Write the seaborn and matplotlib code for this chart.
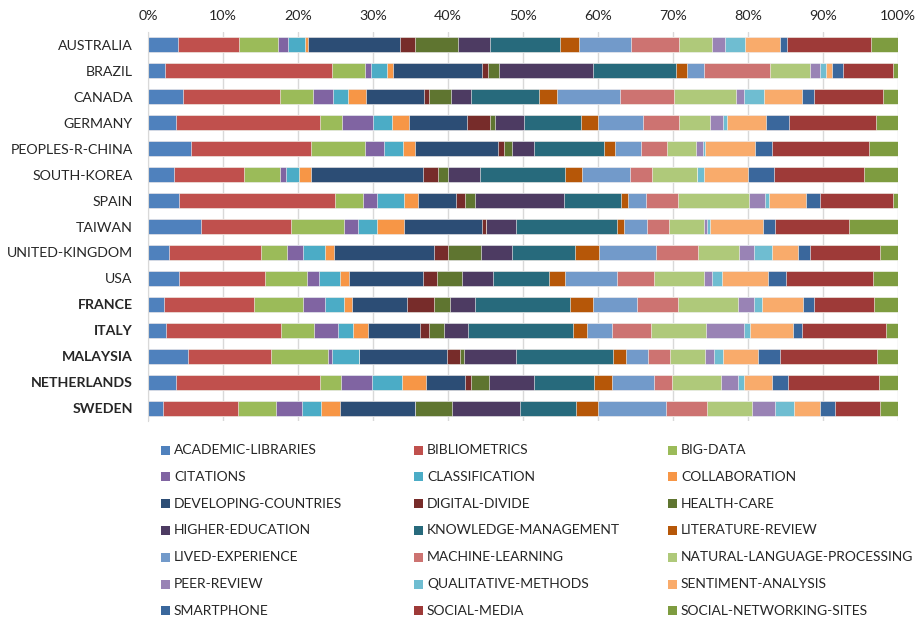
import matplotlib
matplotlib.use("Agg")
import matplotlib.pyplot as plt
from matplotlib.patches import Rectangle
import numpy as np
import pandas as pd
import seaborn as sns

countries = ["AUSTRALIA", "BRAZIL", "CANADA", "GERMANY", "PEOPLES-R-CHINA",
             "SOUTH-KOREA", "SPAIN", "TAIWAN", "UNITED-KINGDOM", "USA",
             "FRANCE", "ITALY", "MALAYSIA", "NETHERLANDS", "SWEDEN"]
bold_countries = ["FRANCE", "ITALY", "MALAYSIA", "NETHERLANDS", "SWEDEN"]

topics = ["ACADEMIC-LIBRARIES", "BIBLIOMETRICS", "BIG-DATA", "CITATIONS",
          "CLASSIFICATION", "COLLABORATION", "DEVELOPING-COUNTRIES",
          "DIGITAL-DIVIDE", "HEALTH-CARE", "HIGHER-EDUCATION",
          "KNOWLEDGE-MANAGEMENT", "LITERATURE-REVIEW", "LIVED-EXPERIENCE",
          "MACHINE-LEARNING", "NATURAL-LANGUAGE-PROCESSING", "PEER-REVIEW",
          "QUALITATIVE-METHODS", "SENTIMENT-ANALYSIS", "SMARTPHONE",
          "SOCIAL-MEDIA", "SOCIAL-NETWORKING-SITES"]

colors = ["#4F81BD", "#C0504D", "#9BBB59", "#8064A2", "#4BACC6", "#F79646",
          "#2C4D75", "#772C2A", "#5F7530", "#4D3B62", "#276A7C", "#B65708",
          "#729ACA", "#CD7371", "#AFC97A", "#9983B5", "#6FBDD1", "#F9AB6B",
          "#3A679C", "#9E3A38", "#7E9C40"]

# share of each topic per country (%), same order as topics
australia = [4.0, 8.18, 5.11, 1.38, 2.22, 0.49, 12.22, 1.96, 5.82, 4.18, 9.33,
             2.53, 6.94, 6.48, 4.4, 1.65, 2.71, 4.67, 0.93, 11.24, 3.56]
brazil = [2.27, 22.26, 4.4, 0.76, 2.18, 0.8, 11.86, 0.76, 1.47, 12.53, 11.15,
          1.47, 2.18, 8.89, 5.24, 1.42, 0.76, 0.8, 1.42, 6.67, 0.71]
canada = [4.62, 12.94, 4.4, 2.71, 2.0, 2.44, 7.69, 0.62, 2.98, 2.62, 9.07,
          2.4, 8.4, 7.29, 8.26, 1.07, 2.67, 4.98, 1.6, 9.28, 1.96]
germany = [3.78, 19.11, 3.02, 4.05, 2.53, 2.27, 7.73, 3.11, 0.71, 3.91, 7.6,
           2.27, 6.0, 4.75, 4.09, 1.78, 0.49, 5.28, 3.03, 11.55, 2.98]
china = [5.69, 16.04, 7.2, 2.54, 2.49, 1.6, 11.11, 0.75, 1.16, 2.93, 9.25,
         1.46, 3.47, 3.55, 3.83, 0.93, 0.27, 6.71, 2.22, 12.89, 3.91]
south_korea = [3.51, 9.25, 4.88, 0.72, 1.73, 1.69, 14.84, 2.0, 1.42, 4.18, 11.34,
               2.35, 6.31, 3.02, 5.92, 0.0, 1.02, 5.86, 3.43, 12.04, 4.49]
spain = [4.18, 20.75, 3.74, 1.86, 3.6, 1.83, 5.06, 1.25, 1.37, 11.78, 7.6,
         0.94, 2.44, 4.31, 9.38, 2.22, 0.53, 4.85, 1.87, 9.73, 0.71]
taiwan = [7.07, 12.0, 7.02, 1.95, 2.49, 3.56, 10.49, 0.49, 0.0, 3.95, 13.47,
          1.02, 3.02, 2.98, 4.58, 0.44, 0.45, 7.06, 1.52, 9.95, 6.49]
uk = [2.76, 12.26, 3.56, 2.04, 2.94, 1.24, 13.29, 1.87, 4.4, 4.13, 8.4,
      3.29, 7.6, 5.6, 5.42, 1.96, 2.4, 3.51, 1.55, 9.42, 2.36]
usa = [4.18, 11.38, 5.64, 1.56, 2.84, 1.24, 9.83, 1.86, 3.34, 4.13, 7.51,
       2.13, 6.94, 4.84, 6.76, 0.98, 1.33, 6.22, 2.31, 11.69, 3.29]
france = [2.18, 11.91, 6.62, 2.85, 2.53, 1.11, 7.29, 3.6, 2.22, 3.25, 12.66,
          3.16, 5.86, 5.43, 8.0, 2.17, 1.07, 5.47, 1.42, 7.96, 3.24]
italy = [2.44, 15.25, 4.49, 3.11, 2.04, 2.05, 6.84, 1.2, 2.05, 3.15, 14.0,
         1.96, 3.24, 5.29, 7.25, 5.15, 0.8, 5.65, 1.2, 11.28, 1.56]
malaysia = [5.29, 11.07, 7.68, 0.54, 3.55, 0.0, 11.69, 1.74, 0.57, 7.0, 12.91,
            1.74, 2.93, 2.93, 4.67, 1.11, 1.2, 4.71, 2.94, 12.89, 2.84]
netherlands = [3.78, 19.11, 2.89, 4.04, 4.05, 3.15, 5.2, 0.85, 2.4, 5.95, 8.09,
               2.36, 5.55, 2.49, 6.49, 2.27, 0.84, 3.73, 2.05, 12.13, 2.58]
sweden = [2.0, 10.0, 5.07, 3.46, 2.54, 2.49, 10.0, 0.0, 5.02, 8.98, 7.46,
          3.02, 9.03, 5.51, 5.95, 3.03, 2.53, 3.47, 2.0, 6.0, 2.44]

rows = [australia, brazil, canada, germany, china, south_korea, spain, taiwan,
        uk, usa, france, italy, malaysia, netherlands, sweden]

df = pd.DataFrame(rows, index=countries, columns=topics)
share = df.div(df.sum(axis=1), axis=0) * 100
cum = share.cumsum(axis=1)

sns.set_style("white")
plt.rcParams['font.family'] = ['Lato', 'DejaVu Sans']

fig = plt.figure(figsize=(9.23, 6.21), dpi=100)
ax = fig.add_axes([148 / 923, 1 - 421 / 621, 750 / 923, 389 / 621])

# draw cumulative bars from the longest to the shortest so each segment shows
for i in range(len(topics) - 1, -1, -1):
    sns.barplot(x=cum.iloc[:, i].values, y=countries, order=countries,
                color=colors[i], orient="h", width=0.58, saturation=1,
                edgecolor="white", linewidth=0.4, ax=ax)

ax.set_xlim(0, 100)
ax.set_xticks(range(0, 101, 10))
ax.set_xticklabels([f"{t}%" for t in range(0, 101, 10)])
ax.xaxis.tick_top()
ax.tick_params(axis="x", length=0, pad=7, labelsize=10.3)
ax.tick_params(axis="y", length=0, pad=11, labelsize=10.2)
ax.grid(axis="x", color="#D9D9D9", lw=1)
ax.set_axisbelow(True)
for s in ["top", "right", "bottom"]:
    ax.spines[s].set_visible(False)
ax.spines["left"].set_color("#D9D9D9")
ax.set_xlabel("")
ax.set_ylabel("")
for lbl in ax.get_yticklabels():
    if lbl.get_text() in bold_countries:
        lbl.set_fontweight("bold")

# legend, three columns filled row by row
col_x = [161, 414, 668]
for k, (name, c) in enumerate(zip(topics, colors)):
    r, cidx = divmod(k, 3)
    y = 450 + 26.8 * r
    x = col_x[cidx]
    fig.add_artist(Rectangle((x / 923, 1 - (y + 4.5) / 621), 9 / 923, 9 / 621,
                             transform=fig.transFigure, color=c, lw=0))
    fig.text((x + 13) / 923, 1 - y / 621, name, fontsize=10, va="center",
             ha="left")

fig.savefig("out.png", dpi=100)
